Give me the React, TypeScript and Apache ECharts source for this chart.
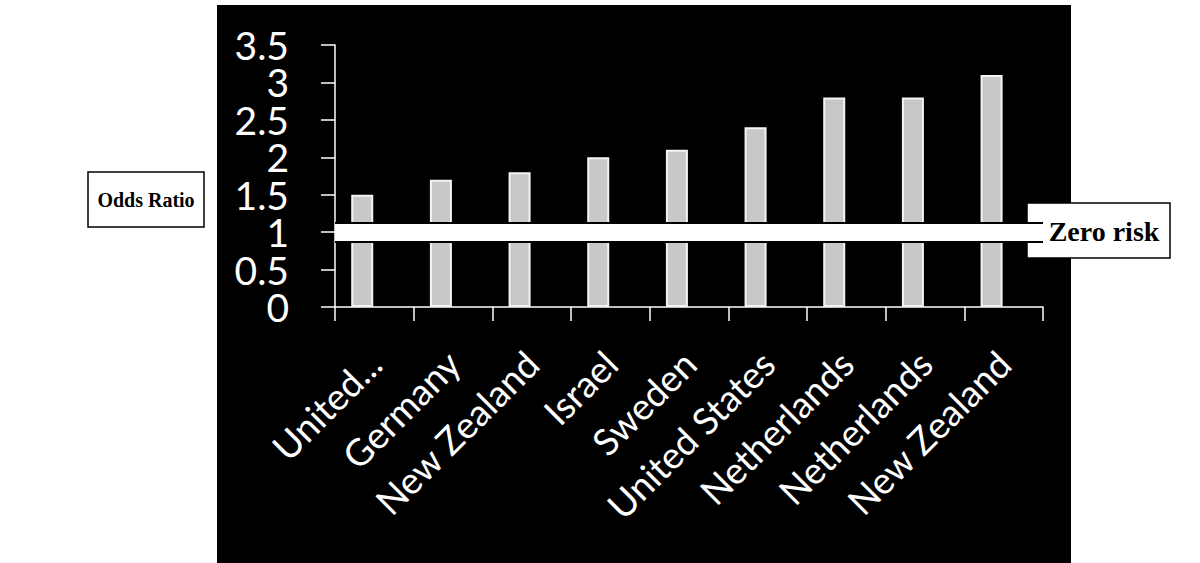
import React, { useEffect, useRef } from "react";
import * as echarts from "echarts";

const categories = [
  "United...",
  "Germany",
  "New Zealand",
  "Israel",
  "Sweden",
  "United States",
  "Netherlands",
  "Netherlands",
  "New Zealand",
];
const oddsRatios = [1.5, 1.7, 1.8, 2.0, 2.1, 2.4, 2.8, 2.8, 3.1];
const emptySeries = categories.map(() => null);
const zeroRiskValue = 1;
const yTicks = { min: 0, max: 3.5, interval: 0.5 };
const leftLabel = "Odds Ratio";
const rightLabel = "Zero risk";

const yLabelStyle = {
  color: "#ffffff",
  fontFamily: "Lato",
  fontSize: 39,
  margin: 46,
  hideOverlap: false,
};

export default function App() {
  const ref = useRef<HTMLDivElement>(null);
  useEffect(() => {
    if (!ref.current) return;
    const chart = echarts.init(ref.current, null, { renderer: "svg" });
    const isEnd = (v: number) => v === yTicks.min || v === yTicks.max;
    chart.setOption({
      animation: false,
      backgroundColor: "#ffffff",
      grid: { left: 335, right: 157, top: 45, bottom: 256, containLabel: false },
      xAxis: {
        type: "category",
        data: categories,
        axisLine: { lineStyle: { color: "#ffffff", width: 1.5 } },
        axisTick: { show: true, length: 14, lineStyle: { color: "#ffffff", width: 1.5 } },
        axisLabel: {
          rotate: 45,
          interval: 0,
          color: "#ffffff",
          fontFamily: "Lato",
          fontSize: 37,
          margin: 50,
          align: "right",
          verticalAlign: "middle",
          hideOverlap: false,
        },
      },
      yAxis: [
        {
          type: "value",
          position: "left",
          min: yTicks.min,
          max: yTicks.max,
          interval: yTicks.interval,
          splitLine: { show: false },
          axisLine: { show: true, lineStyle: { color: "#ffffff", width: 1.5 } },
          axisTick: { show: true, length: 14, lineStyle: { color: "#ffffff", width: 1.5 } },
          axisLabel: {
            ...yLabelStyle,
            formatter: (v: number) => (isEnd(v) ? "" : String(v)),
          },
        },
        {
          type: "value",
          position: "left",
          min: yTicks.min,
          max: yTicks.max,
          interval: yTicks.interval,
          splitLine: { show: false },
          axisLine: { show: false },
          axisTick: { show: false },
          axisLabel: {
            ...yLabelStyle,
            showMinLabel: true,
            showMaxLabel: true,
            formatter: (v: number) => (isEnd(v) ? String(v) : ""),
          },
        },
      ],
      series: [
        {
          type: "bar",
          data: oddsRatios,
          barWidth: 22,
          barGap: "10%",
          itemStyle: { color: "#c8c8c8", borderColor: "#f4f4f4", borderWidth: 2 },
          markLine: {
            silent: true,
            symbol: ["none", "none"],
            label: { show: false },
            data: [
              { yAxis: zeroRiskValue, lineStyle: { color: "#000000", width: 21, type: "solid" } },
              { yAxis: zeroRiskValue, lineStyle: { color: "#ffffff", width: 17, type: "solid" } },
            ],
          },
        },
        {
          type: "bar",
          data: emptySeries,
          barWidth: 22,
        },
      ],
      graphic: [
        {
          type: "rect",
          z: -10,
          shape: { x: 217, y: 5, width: 854, height: 558 },
          style: { fill: "#000000" },
        },
        {
          type: "group",
          z: 100,
          children: [
            {
              type: "rect",
              shape: { x: 88, y: 172, width: 116, height: 55 },
              style: { fill: "#ffffff", stroke: "#000000", lineWidth: 1.5 },
            },
            {
              type: "text",
              x: 146,
              y: 199.5,
              style: {
                text: leftLabel,
                font: "bold 20px 'Liberation Serif'",
                fill: "#000000",
                align: "center",
                verticalAlign: "middle",
              },
            },
            {
              type: "rect",
              shape: { x: 1027, y: 203, width: 143, height: 55 },
              style: { fill: "#ffffff", stroke: "#000000", lineWidth: 1.5 },
            },
            {
              type: "text",
              x: 1104,
              y: 231,
              style: {
                text: rightLabel,
                font: "bold 28px 'Liberation Serif'",
                fill: "#000000",
                align: "center",
                verticalAlign: "middle",
              },
            },
          ],
        },
      ],
    });
    return () => chart.dispose();
  }, []);
  return (
    <div
      ref={ref}
      style={{ position: "fixed", left: 0, top: 0, width: 1200, height: 563 }}
    />
  );
}
